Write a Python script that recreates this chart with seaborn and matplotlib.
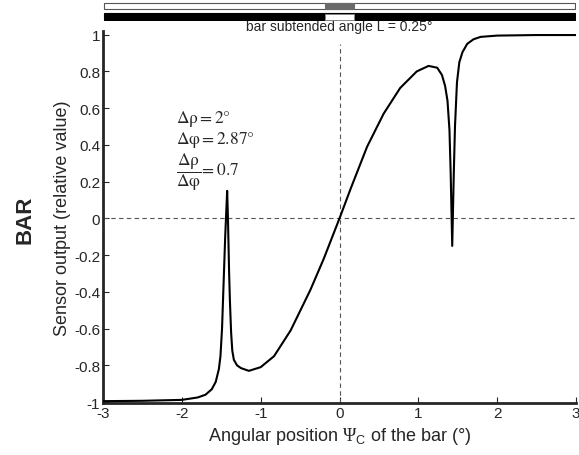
import numpy as np
import pandas as pd
import seaborn as sns
import matplotlib.pyplot as plt
from matplotlib.patches import Rectangle

# Sensor response to a bar
angle = [-3.0, -2.5, -2.0, -1.8, -1.7, -1.62, -1.57, -1.53, -1.51, -1.49,
         -1.47, -1.45, -1.435, -1.425, -1.415, -1.40, -1.39, -1.375, -1.36, -1.34,
         -1.30, -1.25, -1.15, -1.0, -0.83, -0.62, -0.37, -0.2, 0.0, 0.14,
         0.35, 0.56, 0.77, 0.98, 1.13, 1.24, 1.30, 1.34, 1.37, 1.395,
         1.41, 1.43, 1.45, 1.465, 1.49, 1.52, 1.56, 1.62, 1.7, 1.79,
         2.0, 2.5, 3.0]
output = [-0.995, -0.993, -0.988, -0.975, -0.96, -0.93, -0.89, -0.82, -0.75, -0.60,
          -0.35, -0.10, 0.05, 0.15, 0.0, -0.30, -0.45, -0.62, -0.72, -0.77,
          -0.80, -0.815, -0.83, -0.81, -0.75, -0.61, -0.39, -0.22, 0.0, 0.16,
          0.39, 0.57, 0.71, 0.80, 0.83, 0.82, 0.78, 0.72, 0.64, 0.48,
          0.25, -0.15, 0.25, 0.50, 0.74, 0.85, 0.905, 0.95, 0.975, 0.988,
          0.995, 0.998, 0.998]

x_ticks = [-3, -2, -1, 0, 1, 2, 3]
y_ticks = [-1, -0.8, -0.6, -0.4, -0.2, 0, 0.2, 0.4, 0.6, 0.8, 1]
y_tick_labels = ["-1", "-0.8", "-0.6", "-0.4", "-0.2", "0", "0.2", "0.4", "0.6", "0.8", "1"]

df = pd.DataFrame({"angle": angle, "output": output})

sns.set_style("ticks")
plt.rcParams["font.family"] = ["Liberation Sans", "DejaVu Sans"]
plt.rcParams["axes.unicode_minus"] = False
plt.rcParams["mathtext.rm"] = "Liberation Serif"
plt.rcParams["mathtext.sf"] = "Liberation Sans"

W, H = 579, 456
fig = plt.figure(figsize=(W / 100, H / 100), dpi=100)
ax = fig.add_axes([103 / W, 1 - 404 / H, 473 / W, 372 / H])

ax.axhline(0, color="#555555", lw=0.8, ls=(0, (4, 3)), zorder=1)
ax.axvline(0, ymax=0.965, color="#555555", lw=0.8, ls=(0, (4, 3)), zorder=1)
sns.lineplot(data=df, x="angle", y="output", estimator=None, sort=False,
             color="black", lw=1.5, ax=ax, zorder=3)

ax.set_xlim(-3, 3)
ax.set_ylim(-1.005, 1.02)
ax.set_xticks(x_ticks)
ax.set_xticklabels([str(t) for t in x_ticks])
ax.set_yticks(y_ticks)
ax.set_yticklabels(y_tick_labels)
ax.tick_params(direction="in", length=4, width=0.8, labelsize=11, pad=2)
sns.despine(ax=ax)
for side in ("left", "bottom"):
    ax.spines[side].set_linewidth(2)

ax.set_xlabel(r"Angular position $\mathrm{\Psi}_{\mathsf{C}}$ of the bar (°)", fontsize=13,
              labelpad=4, math_fontfamily="custom")
ax.set_ylabel("Sensor output (relative value)", fontsize=13, labelpad=2)
fig.text(25 / W, 1 - 220 / H, "BAR", rotation=90, fontsize=16, fontweight="bold",
         ha="center", va="center")

ax.text(0.0, 1.045, "bar subtended angle L = 0.25°", fontsize=10,
        ha="center", va="center")

# stimulus annotation
serif = dict(fontsize=12.5, family=["Liberation Serif", "DejaVu Serif"],
             math_fontfamily="stix", ha="left", va="center")
ax.text(-2.07, 0.545, r"$\mathrm{\Delta\rho = 2°}$", **serif)
ax.text(-2.07, 0.43, r"$\mathrm{\Delta\varphi = 2.87°}$", **serif)
ax.text(-2.07, 0.255, r"$\mathrm{\dfrac{\Delta\rho}{\Delta\varphi}\!= 0.7}$", **serif)

# bar stimulus icon above the plot
top = fig.add_axes([103 / W, 1 - 22 / H, 473 / W, 19 / H])
top.set_xlim(-3.01, 3.01)
top.set_ylim(22, 3)
top.axis("off")
half = 0.18
top.add_patch(Rectangle((-3, 4), 6, 5.5, facecolor="white", edgecolor="#555555", lw=0.8))
top.add_patch(Rectangle((-half, 4), 2 * half, 5.5, facecolor="#6a6a6a", edgecolor="#6a6a6a", lw=0.8))
top.add_patch(Rectangle((-3, 13.5), 6, 7.5, facecolor="black", edgecolor="black", lw=0.8))
top.add_patch(Rectangle((-half, 14.5), 2 * half, 6, facecolor="white", edgecolor="#888888", lw=0.6))

fig.savefig("out.png", dpi=100)
